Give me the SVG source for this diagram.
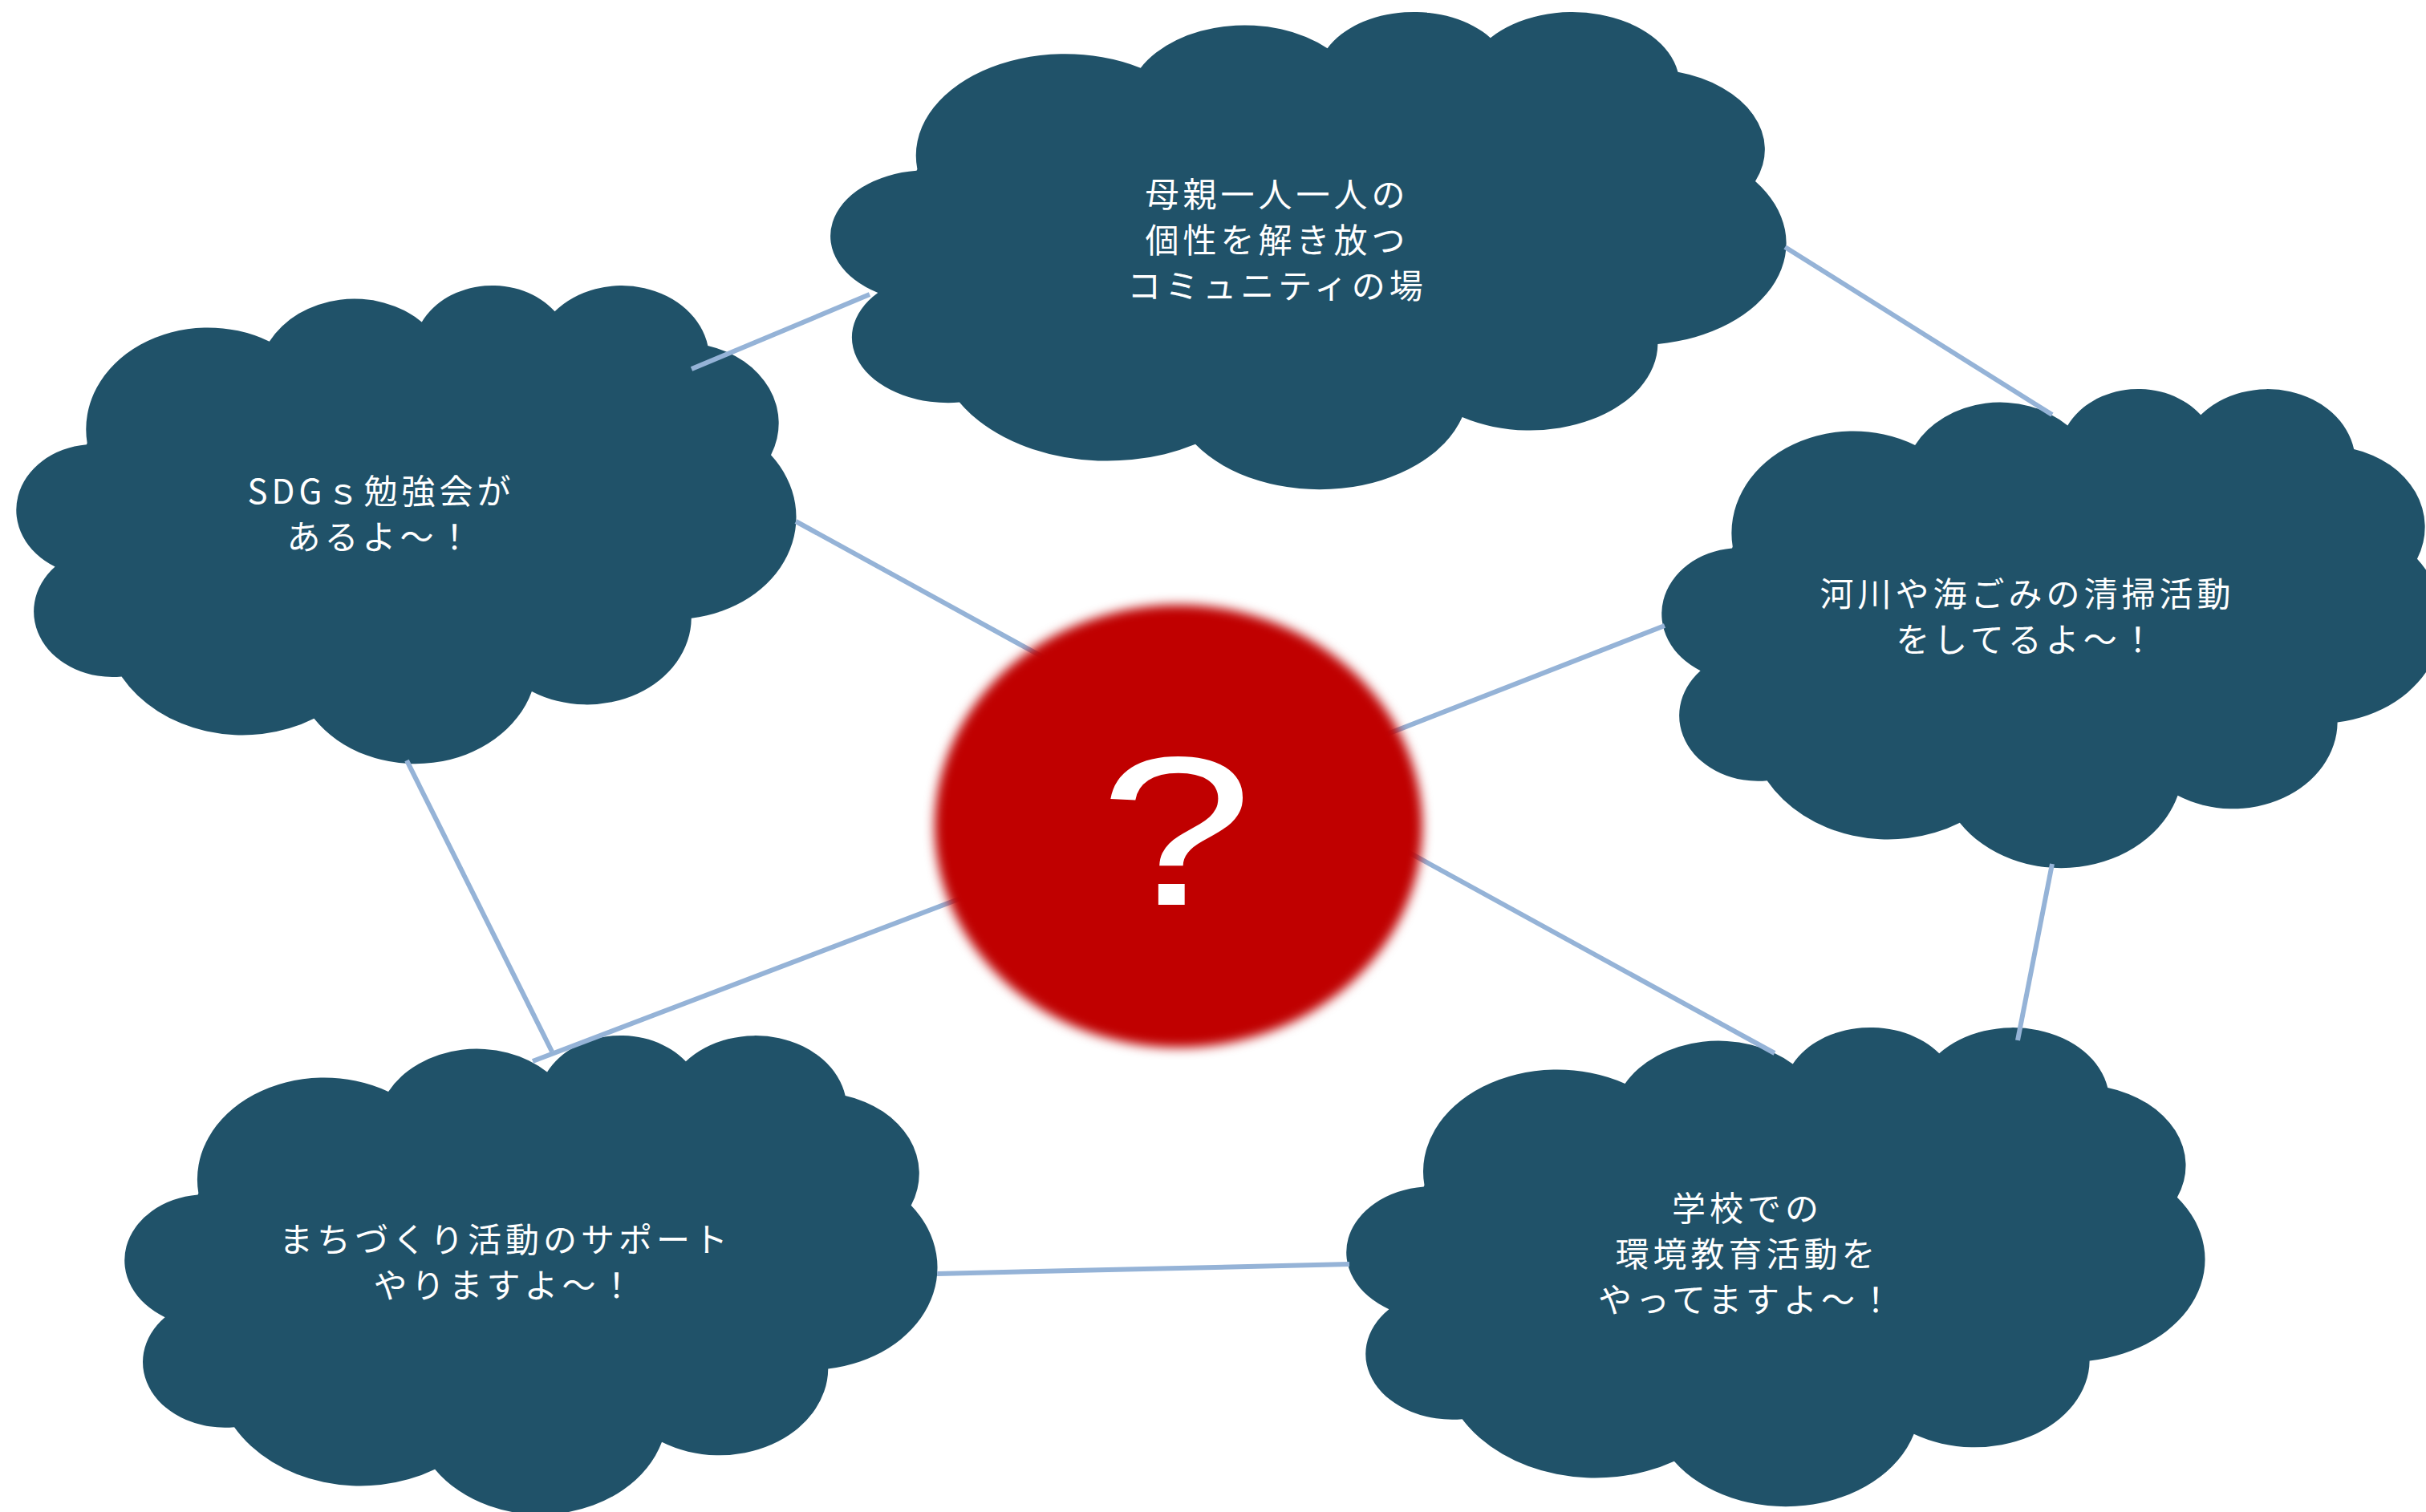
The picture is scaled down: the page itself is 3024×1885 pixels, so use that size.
<svg xmlns="http://www.w3.org/2000/svg" xmlns:xlink="http://www.w3.org/1999/xlink" width="3024" height="1885" viewBox="0 0 3024 1885">
<style>
.cloud{fill:#205269;}
.lbl{fill:#ffffff;font-family:"Noto Sans CJK JP","Noto Sans",sans-serif;font-size:42px;text-anchor:middle;letter-spacing:5px;}
.conn{stroke:#95B3D7;stroke-width:6;fill:none;}
.q{fill:#ffffff;font-family:"Liberation Sans",Arial,sans-serif;font-size:265px;text-anchor:middle;}
</style>
<defs>
<path id="cloudShape" d="M9.028,33.264 A15.632,21.273 0 0 1 32.419,12.044 A12.345,16.822 0 0 1 51.984,7.949 A10.104,13.762 0 0 1 69.06,5.748 A11.243,15.266 0 0 1 88.701,12.91 A12.345,16.836 0 0 1 96.806,35.789 A15.683,21.343 0 0 1 86.588,69.917 A13.391,18.211 0 0 1 66.106,85.22 A15.63,21.331 0 0 1 38.155,90.898 A17.87,24.405 0 0 1 13.444,82.118 A10.093,13.699 0 0 1 4.9,59.15 A10.058,13.762 0 0 1 8.951,33.586 Z"/>
<filter id="soft" x="-10%" y="-10%" width="120%" height="120%">
<feGaussianBlur stdDeviation="7"/>
</filter>
</defs>
<rect x="0" y="0" width="3024" height="1885" fill="#ffffff"/>

<g id="node-top">
<use xlink:href="#cloudShape" class="cloud" transform="translate(1036,13) scale(11.9,5.95)"/>
<text class="lbl" x="1592" y="258">母親一人一人の</text>
<text class="lbl" x="1592" y="315">個性を解き放つ</text>
<text class="lbl" x="1592" y="372">コミュニティの場</text>
</g>

<g id="node-sdgs">
<use xlink:href="#cloudShape" class="cloud" transform="translate(21,354) scale(9.71,5.96)"/>
<text class="lbl" x="475" y="628">SDGｓ勉強会が</text>
<text class="lbl" x="475" y="685">あるよ～！</text>
</g>

<g id="node-river">
<use xlink:href="#cloudShape" class="cloud" transform="translate(2072,483) scale(9.72,5.97)"/>
<text class="lbl" x="2527" y="756">河川や海ごみの清掃活動</text>
<text class="lbl" x="2527" y="813">をしてるよ～！</text>
</g>

<g id="node-school">
<use xlink:href="#cloudShape" class="cloud" transform="translate(1679,1279) scale(10.69,5.97)"/>
<text class="lbl" x="2178" y="1522">学校での</text>
<text class="lbl" x="2178" y="1579">環境教育活動を</text>
<text class="lbl" x="2178" y="1636">やってますよ～！</text>
</g>

<g id="node-town">
<use xlink:href="#cloudShape" class="cloud" transform="translate(156,1289) scale(10.12,5.97)"/>
<text class="lbl" x="630" y="1561">まちづくり活動のサポート</text>
<text class="lbl" x="630" y="1618">やりますよ～！</text>
</g>

<g id="connectors">
<line class="conn" x1="862" y1="460" x2="1084" y2="367"/>
<line class="conn" x1="2225" y1="308" x2="2558" y2="517"/>
<line class="conn" x1="992" y1="650" x2="1380" y2="863"/>
<line class="conn" x1="2075" y1="780" x2="1650" y2="946"/>
<line class="conn" x1="2212" y1="1313" x2="1700" y2="1032"/>
<line class="conn" x1="2558" y1="1077" x2="2515" y2="1297"/>
<line class="conn" x1="664" y1="1323" x2="1250" y2="1100"/>
<line class="conn" x1="507" y1="948" x2="688" y2="1311"/>
<line class="conn" x1="1168" y1="1588" x2="1682" y2="1576"/>
</g>

<g id="node-center">
<ellipse cx="1469" cy="1030" rx="304" ry="276" fill="#C00000" filter="url(#soft)"/>
<text class="q" transform="translate(1466,1128) scale(1.3,1)" x="0" y="0">?</text>
</g>
</svg>
